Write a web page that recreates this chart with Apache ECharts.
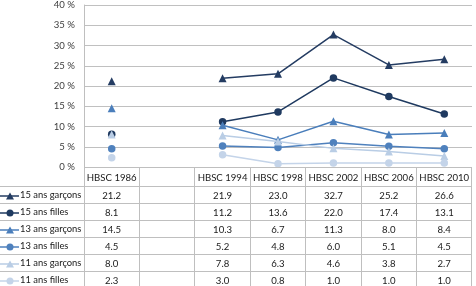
<!DOCTYPE html>
<html>
<head>
<meta charset="utf-8">
<script src="https://cdn.jsdelivr.net/npm/echarts@6/dist/echarts.min.js"></script>
<style>
  html, body { margin: 0; padding: 0; background: #fff; }
  #wrap { position: relative; width: 476px; height: 286px; overflow: hidden; }
  #chart { position: absolute; left: 0; top: 0; width: 476px; height: 286px; }
  #tbl {
    position: absolute; left: 0; top: 167px;
    border-collapse: collapse; table-layout: fixed;
    font-family: Lato, 'Open Sans', sans-serif; font-size: 9.6px; color: #202020;
  }
  #tbl td { border: 1px solid #bfbfbf; text-align: center; padding: 0; height: 16px; white-space: nowrap; overflow: hidden; }
  #tbl tr.head td { height: 18px; }
  #tbl td.lab { text-align: left; border-left: none; font-size: 9.4px; }
  #tbl tr.head td.lab { border-top: none; }
  #tbl svg { vertical-align: middle; margin-right: 1px; }
</style>
</head>
<body>
<div id="wrap">
  <div id="chart"></div>
  <table id="tbl"></table>
</div>
<script>
const categories = ['HBSC 1986', '', 'HBSC 1994', 'HBSC 1998', 'HBSC 2002', 'HBSC 2006', 'HBSC 2010'];
const yTicks = [0, 5, 10, 15, 20, 25, 30, 35, 40];

const names = ['15 ans garçons', '15 ans filles', '13 ans garçons', '13 ans filles', '11 ans garçons', '11 ans filles'];
const boys15 = [21.2, null, 21.9, 23.0, 32.7, 25.2, 26.6];
const girls15 = [8.1, null, 11.2, 13.6, 22.0, 17.4, 13.1];
const boys13 = [14.5, null, 10.3, 6.7, 11.3, 8.0, 8.4];
const girls13 = [4.5, null, 5.2, 4.8, 6.0, 5.1, 4.5];
const boys11 = [8.0, null, 7.8, 6.3, 4.6, 3.8, 2.7];
const girls11 = [2.3, null, 3.0, 0.8, 1.0, 1.0, 1.0];

const values = [boys15, girls15, boys13, girls13, boys11, girls11];
const colors = ['#243c62', '#1f3a60', '#4a7ebb', '#4f81bd', '#b9cde5', '#c4d4e9'];
const symbols = ['triangle', 'circle', 'triangle', 'circle', 'triangle', 'circle'];

const gridLeft = 84, gridRight = 4;

// later series sit on top, as in the original
const series = names.map((n, i) => ({
  name: n,
  type: 'line',
  data: values[i],
  connectNulls: false,
  symbol: symbols[i],
  symbolSize: symbols[i] === 'triangle' ? 8 : 7.5,
  showAllSymbol: true,
  lineStyle: { color: colors[i], width: 1.5 },
  itemStyle: { color: colors[i] },
  z: 2 + i
}));

const option = {
  animation: false,
  grid: { left: gridLeft, right: gridRight, top: 5, bottom: 286 - 167 },
  xAxis: {
    type: 'category',
    data: categories,
    boundaryGap: true,
    axisLine: { show: false },
    axisTick: { show: false },
    axisLabel: { show: false }
  },
  yAxis: {
    type: 'value',
    min: yTicks[0],
    max: yTicks[yTicks.length - 1],
    interval: 5,
    axisLine: { show: true, lineStyle: { color: '#bfbfbf', width: 1 } },
    axisTick: { show: false },
    axisLabel: { formatter: '{value} %', color: '#404040', fontSize: 9.6, fontFamily: 'Lato, sans-serif', margin: 9 },
    splitLine: { lineStyle: { color: '#c0c0c0', width: 1 } }
  },
  series: series
};

const chart = echarts.init(document.getElementById('chart'), null, { renderer: 'canvas' });
chart.setOption(option);

// data table under the plot, columns aligned with the category bands
const tbl = document.getElementById('tbl');
const colW = (476 - gridLeft - gridRight) / categories.length;
let html = '<colgroup><col style="width:' + gridLeft + 'px">';
categories.forEach(() => { html += '<col style="width:' + colW + 'px">'; });
html += '</colgroup>';
html += '<tr class="head"><td class="lab"></td>' + categories.map(c => '<td>' + c + '</td>').join('') + '</tr>';
names.forEach((n, i) => {
  const mark = symbols[i] === 'triangle'
    ? '<polygon points="10,1.5 14,8.5 6,8.5" fill="' + colors[i] + '"/>'
    : '<circle cx="10" cy="5" r="3.5" fill="' + colors[i] + '"/>';
  const icon = '<svg width="19" height="10"><line x1="0" y1="5" x2="19" y2="5" stroke="' + colors[i] + '" stroke-width="1.5"/>' + mark + '</svg>';
  html += '<tr><td class="lab">' + icon + n + '</td>' +
    values[i].map(v => '<td>' + (v == null ? '' : v.toFixed(1)) + '</td>').join('') + '</tr>';
});
tbl.innerHTML = html;
</script>
</body>
</html>
